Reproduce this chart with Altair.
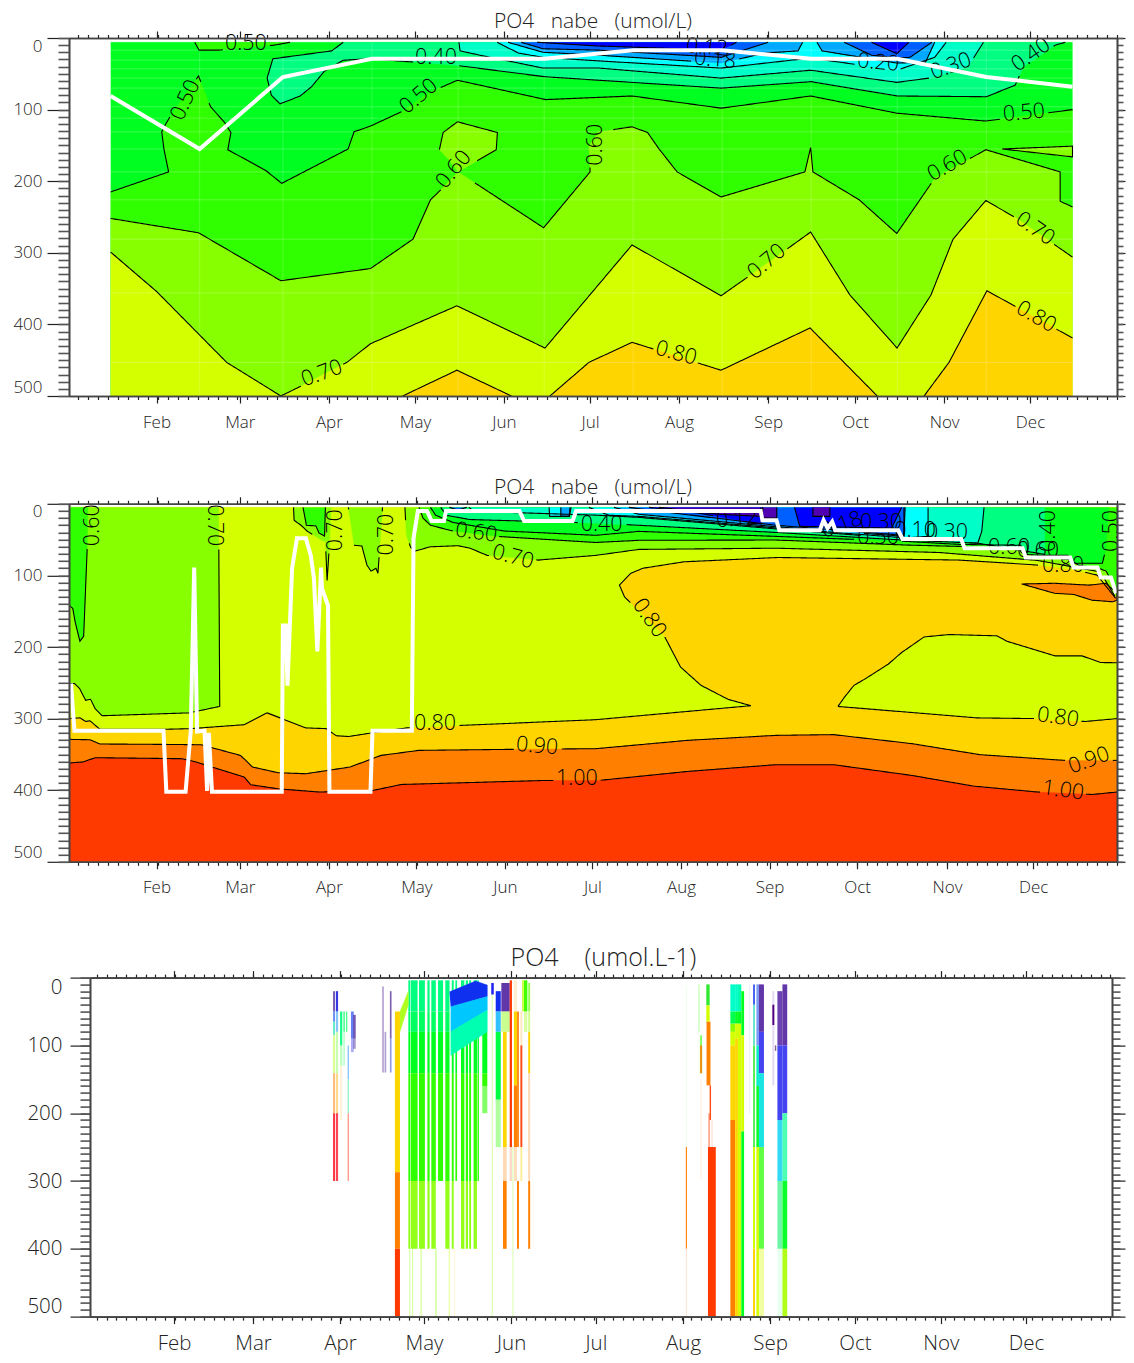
import altair as alt
import numpy as np
import pandas as pd

FONT = "Open Sans"
INK = "#222222"
PURPLE, B0, B1, B2, CY = "#5000B0", "#0000FF", "#0060FF", "#00A8FF", "#00FFFF"
C23, C34, C45, C56, C67 = "#00FFC8", "#00FF80", "#00FF20", "#30FF00", "#88FF00"
C78, C89, C910, C10 = "#D4FF00", "#FFD500", "#FF8000", "#FF3A00"

MONTHS = ["Feb", "Mar", "Apr", "May", "Jun", "Jul", "Aug", "Sep", "Oct", "Nov", "Dec"]
TICKS_1 = [30, 59, 90, 120, 151, 181, 212, 243, 273.3, 304.3, 334.2]
TICKS_2 = [30, 59, 90, 120.5, 151.3, 181.8, 212.7, 243.5, 274, 305.3, 335.3]
TICKS_3 = [30, 58.2, 89.3, 119.3, 150.4, 180.7, 211.8, 242.9, 273.2, 303.9, 334.3]

# ---- panel 1: monthly climatology, contour outlines as (day, depth) ----
L50 = [(14,215),(34.2,187),(32.6,156),(31.8,131),(33.2,120),(35,108),(44.6,53),(48.8,96),(53.5,117),(55.9,132),(54.8,156),(68,185),(73.6,203),(96.7,155),(98.8,131),(104.5,123),(115.3,103),(124.4,77),(134.8,59),(165.5,86),(195.6,81),(226.7,98),(257.8,81),(287.8,105),(318.8,116),(349,100)]
L50_TOP = [(43.3,6),(44.8,17),(51.7,17),(70.9,10),(76.5,6)]
L60 = [(14,252),(44.6,272),(73.3,339),(104.5,322),(119.3,281),(125.4,226),(129,212),(135,187),(164.8,265),(181,187),(180.6,151),(184,131),(195.6,124),(201,132),(205,155),(211.3,187),(226.6,222),(255.8,187),(257.8,153),(258.6,187),(274.7,226),(287.8,273),(301,196),(318.8,156),(344.7,187),(344.7,228),(349,236)]
L60_ISLAND = [(134.8,117),(148.7,132),(148.3,156),(135,187),(131.8,170),(128.5,156),(129.8,132),(134.8,117)]
L60_WEDGE = [(324.5,155),(349,151),(349,166),(324.5,155)]
L70 = [(14,299),(30,354),(54.4,453),(73.3,500),(80.9,485),(96.3,453),(104.5,427),(134.6,374),(165.3,433),(195.6,289),(226.6,360),(243.3,313),(257.8,271),(271.5,359),(287.9,433),(299.7,359),(307.4,281),(318.8,227),(329.2,251),(349,306)]
L80_A = [(115.7,500),(134.6,464),(153.6,500)]
L80_B = [(167,500),(180.6,453),(195.6,425),(226.6,464),(257.6,405),(269.4,453),(281,500)]
L80_C = [(297.3,500),(306,453),(319.2,353),(349,419)]
L40 = [(95,6),(91,18),(70.5,29),(68.5,56),(70,80),(73,92),(80,81),(84,68),(88.3,47),(95,31),(104,29),(134,38),(165,54),(184,59),(226.6,70),(258,61),(288,81),(319,82),(329,66),(332,40),(343,10),(346.5,6)]
L30 = [(135.3,6),(135.7,18),(142.6,24),(164.6,42),(184,42),(226.6,56),(257.8,45),(287.8,62),(299,56),(312.6,40),(318,6)]
L20 = [(148.6,6),(156,21),(164.6,27),(184,32),(226.6,42),(257.8,28),(287.8,45),(301,27),(305,6)]
L18_L = [(152.4,6),(164.6,20),(184,24),(226.6,35),(242,21),(253.4,18),(255,6)]
L18_R = [(260,6),(261.8,18),(287.8,35),(297.8,34),(301,6)]
L15_L = [(157,6),(164.6,15),(184,17),(226.6,27),(243,6)]
L15_R = [(269.5,6),(279,24),(287.8,28),(292.4,27),(300,6)]
L12_L = [(162.5,6),(183,11),(226.6,17),(232,6)]
L12_R = [(279,6),(287.8,22),(292,6)]

# fill colour, label level, outline, extra points that close the fill
REGIONS_1 = [
    (C45, "", [(14,6),(349,6),(349,500),(14,500)], []),
    (C56, "0.50", L50, [(349,500),(14,500)]),
    (C56, "0.50", L50_TOP, []),
    (C67, "0.60", L60, [(349,500),(14,500)]),
    (C67, "0.60", L60_ISLAND, []),
    (C67, "0.60", L60_WEDGE, []),
    (C78, "0.70", L70, [(349,500),(14,500)]),
    (C89, "0.80", L80_A, []),
    (C89, "0.80", L80_B, []),
    (C89, "0.80", L80_C, [(349,500)]),
    (C34, "0.40", L40, []),
    (C23, "0.30", L30, []),
    (CY, "0.20", L20, []),
    (B2, "0.18", L18_L, []),
    (B2, "0.18", L18_R, []),
    (B1, "0.15", L15_L, []),
    (B1, "0.15", L15_R, []),
    (B0, "0.12", L12_L, []),
    (B0, "0.12", L12_R, []),
]
LABELS_1 = [("0.50",61.1,8,0),("0.50",40.2,87,295),("0.40",127.3,28,0),("0.50",121.4,82,320),("0.60",133.6,184,310),
            ("0.60",183,149,270),("0.18",224.5,31,5),("0.12",221.7,14,5),("0.20",281.3,35,5),("0.30",306.7,40,340),
            ("0.40",334.6,24,325),("0.50",332.1,105,355),("0.60",305.5,179,330),("0.70",335.9,267,35),("0.70",242.6,313,320),
            ("0.80",210.9,441,15),("0.80",336.3,390,30),("0.70",87.6,469,340)]
WHITE_1_DAY = [14,45,74,105,135,165,196,227,258,288,319,349]
WHITE_1_DEPTH = [81,155,54.5,29,29,29,17,17,29,29,54.5,68]
SEAM_DEPTH = [17,31,43,56,70,96,112,131,155,187,226,281,356,453]

# ---- panel 2: daily climatology ----
P2_L60_LEFT = [(-0.5,251),(1.4,251),(3.2,258),(5.3,274.5),(7,273),(8.6,286),(11,296),(41.3,292),(52,283),(51.6,5)]
P2_L50_LEFT = [(-0.5,142),(0.8,146),(1.7,166),(3.3,192),(4.6,185),(5.8,66),(6.1,5)]
P2_PATCH1 = [(77.7,5),(77.9,23),(80.6,31),(82.4,38),(87.9,52),(88.8,52),(89.4,107),(90.2,58),(90.8,5)]
P2_PATCH1B = [(81,5),(82.2,30),(85.5,31),(86.6,41),(88.5,45),(88.8,5)]
P2_PATCH2 = [(96.8,5),(98.8,58),(101.5,59),(103.3,86),(104.7,94),(106.4,90),(107.1,97),(108.7,5)]
P2_L80 = [(-0.5,300),(3.3,299),(5.3,304),(6.8,303),(10.3,315),(31.8,315),(42,314),(60.5,308.5),(68.5,292),(82,313),(89,314),(92.6,324),(96.8,325),(105,320),(117,313),(136.2,309.5),(183,301.5),(237,282),(229,273),(219.6,253.5),(212.5,228),(207,186),(193,130),(191.2,113.6),(195.2,97),(199.4,90),(213.7,81),(246.3,75),(309.7,78.6),(337,85.6),(350,92.6),(357.6,99.6),(364,132)]
P2_L80_R = [(267.3,283),(269.6,270),(272.9,253.5),(277,244),(284.8,224),(289.5,207.7),(297.3,186),(306,182.6),(322.7,184.4),(326.2,192),(342.9,212.4),(352.3,212.4),(358.8,221.7),(364.5,222)]
P2_L80_R2 = [(364.5,300),(353.5,304),(336.3,300),(315.6,299),(267.3,283)]
P2_L90_PATCH = [(331.3,112),(342.8,125),(349.4,126.6),(355.8,134.6),(363,136.8),(364.5,134.6),(364.5,125),(360.6,111),(354.7,113.6),(342.8,111),(331.3,112)]
P2_L90 = [(-0.5,329),(6.8,329.5),(10.3,335.5),(31.8,336),(45.5,336.5),(59.2,351.4),(61,358),(63.4,367.6),(72.3,375.6),(82,377),(97.4,367.6),(108.2,351.4),(121.3,344.4),(152.3,343),(183,342),(214.9,330.4),(245.7,323.4),(265.8,322.4),(293.1,335),(316.8,350.4),(346.4,358.4),(364.5,358.4)]
P2_L100 = [(-0.5,362),(4.4,360.6),(8.6,354.6),(38.9,356),(43.7,360.6),(60.5,381.6),(62.8,392.4),(72.3,398),(86.6,402.6),(105.3,400.4),(115.3,392),(165.3,386.4),(184,386.4),(214.9,373.8),(245.7,364.4),(265.8,364.4),(293.1,379.4),(314.4,394.2),(337,402.6),(355.8,406),(364.5,402.6)]
P2_L70 = [(116.5,5),(117,44),(118.5,61),(120,66),(125.4,60),(135,58.5),(139.2,62),(145.1,72),(163,78.6),(183,72),(198,63.7),(245.7,62),(302.5,68),(336.7,79),(357.6,94.4),(360,104),(363.8,129.4)]
P2_L60 = [(121.4,5),(122.8,20),(125.4,30),(133.2,38),(148.6,45.5),(183,54),(198,51),(245.7,50.6),(291,57.6),(309.5,59.5),(331,65),(337.3,76),(347.8,77.6),(351.3,86),(358.2,90),(360.7,94),(364,118)]
P2_L50 = [(125.4,5),(127.2,16),(133.2,26),(151,38),(183,44),(198,38.5),(245.7,45.5),(291,52.5),(309.5,56.7),(331,58),(332,70.6),(338,72),(347.4,72),(349.4,83),(359.4,83),(360.7,62),(360.9,44),(361.7,5)]
P2_L40 = [(129,5),(130.8,16),(139.2,22),(183,27),(198,30),(245.7,40),(289.6,50.6),(316,55),(339.3,70.6),(339.3,5)]
P2_L30 = [(138.8,5),(140.5,10.5),(184,16),(198,19),(245.7,35),(290.7,49),(316,55),(317.4,38.5),(318.2,5)]
P2_L20_A = [(166.7,5),(166.9,17.5),(173.7,17.5),(174.4,5)]
P2_L20_B = [(180.6,5),(187.6,16),(198,17.5),(245.7,33.6),(290.7,47.6),(298.7,45.5),(298.7,5)]
P2_L18_A = [(170.8,5),(170.8,17.5),(173.7,17.5),(174,5)]
P2_L18_B = [(189.3,5),(198,14.7),(245.7,32),(290.3,45.5),(290.3,5)]
P2_L15_A = [(132,5),(135,9),(138,5)]
P2_L15_B = [(194.5,5),(205,10.5),(245.7,30),(290.3,44),(290.7,5)]
P2_L12_A = [(201.5,5),(219,13),(240.5,29),(241.2,5)]
P2_L12_B = [(252.2,5),(254,31.5),(286,34),(289.5,5)]
P2_L10_A = [(205,5),(226,14.7),(240.5,17.5),(240.5,5)]
P2_L10_B = [(241,5),(241,20),(246,20),(246,5)]
P2_L10_C = [(258.6,5),(258.6,17.5),(264.5,17.5),(264.5,5)]

REGIONS_2 = [
    (C89, "", [(-0.5,5),(364.5,5),(364.5,500),(-0.5,500)], []),
    (C78, "0.80", P2_L80, [(364.5,132),(364.5,5),(-0.5,5)]),
    (C78, "0.80", P2_L80_R, P2_L80_R2),
    (None, "0.80", P2_L80_R2, []),
    (C910, "0.90", P2_L90_PATCH, []),
    (C910, "0.90", P2_L90, [(364.5,500),(-0.5,500)]),
    (C10, "1.00", P2_L100, [(364.5,500),(-0.5,500)]),
    (C67, "0.70", P2_L60_LEFT, [(-0.5,5)]),
    (C56, "0.60", P2_L50_LEFT, [(-0.5,5)]),
    (C67, "0.70", P2_PATCH1, []),
    (C56, "0.60", P2_PATCH1B, []),
    (C67, "0.70", P2_PATCH2, []),
    (C67, "0.70", P2_L70, [(364.5,129),(364.5,5)]),
    (C56, "0.60", P2_L60, [(364.5,118),(364.5,5)]),
    (C45, "0.50", P2_L50, []),
    (C34, "0.40", P2_L40, []),
    (C23, "0.30", P2_L30, []),
    (CY, "0.20", P2_L20_A, []),
    (CY, "0.20", P2_L20_B, []),
    (B2, "0.18", P2_L18_A, []),
    (B2, "0.18", P2_L18_B, []),
    (B1, "0.15", P2_L15_A, []),
    (B1, "0.15", P2_L15_B, []),
    (B0, "0.12", P2_L12_A, []),
    (B0, "0.12", P2_L12_B, []),
    (PURPLE, "0.10", P2_L10_A, []),
    (PURPLE, "0.10", P2_L10_B, []),
    (PURPLE, "0.10", P2_L10_C, []),
]
LABELS_2 = [("0.60",7.9,30,270),("0.70",50,30,90),("0.70",92.5,37,270),("0.70",110.3,43,270),("0.60",141.3,41,8),
            ("0.40",185,30,0),("0.70",154.1,75,15),("0.12",232.2,22,355),("0.18",268.7,30,340),("0.50",281.3,48,0),
            ("0.30",282.3,27,0),("0.10",294.2,38,0),("0.30",305.3,41,0),("0.40",340.8,38,270),("0.50",362.8,38,270),
            ("0.80",345.7,87,0),("0.60",326.9,62,0),("0.60",337,66,0),("0.80",201.5,160,55),("0.80",127,307,0),
            ("0.90",162.5,339,5),("1.00",176.4,384,0),("0.80",343.9,299,8),("0.90",354.8,359,340),("1.00",345.7,401,8)]
WHITE_2_DAY = [0.2,1.4,32.4,33.4,40.1,41.9,43.1,44.1,46.7,47.6,48.2,49.3,73.6,74,75,75.6,77.2,78.9,82,83.7,84.8,86,87.3,87.6,89.7,90.2,104.5,105.2,118.9,119.5,121,124.2,125.8,130.1,130.8,156.4,158,174.9,176.1,240.4,241,245.9,246.9,261,262.3,263.7,265.3,266.4,288.3,289.8,310.2,311.4,331.6,332.7,348.2,349.4,357.7,358.8,362.4,364.2]
WHITE_2_DEPTH = [251,317,317,402,402,318,89,318,317,401,320,402,402,170,170,254,90,48,48,72,104,206,89,118,142,402,402,317,317,48,10,10,24,24,10,10,24,24,10,10,23,23,37,37,23,34,25,37,37,49,49,62,62,75,75,89,89,103,103,125]

# ---- panel 3: individual profiles ----
GREEN_COLS = [(113.7,114.4,400),(114.6,117,400),(117.5,119.6,400),(120.5,121.3,400),(121.9,123.5,400),(124.3,126.1,300),(126.9,128.4,400),(129.2,129.9,400),(130.5,131.1,300),(132.5,133.7,400),(134.2,135,400),(135.4,136.1,400),(137,138.2,400),(138.4,138.9,300)]
GREEN_SEGS = [(4,50,C34,1),(50,80,"#00FF60",1),(80,141,C45,1),(141,300,C56,1),(300,400,C67,.9)]
PROFILES = [
    (86.8,87.5,[(20,50,"#5030A0",.8),(50,65,"#3060F0",.7),(65,85,"#00E0A0",.6),(85,141,"#C0FF40",.6),(141,200,"#FF9020",.6),(200,300,"#FF2030",.9)]),
    (87.8,88.6,[(20,50,"#2020E0",.9),(50,80,"#30A0F0",.6),(80,141,"#90FF60",.5),(141,200,"#FFC040",.6),(200,300,"#FF3040",.9)]),
    (89.3,90.1,[(50,100,"#00FF80",.9),(100,130,"#80FF80",.5),(130,210,"#FFD080",.3)]),
    (90.5,91.0,[(50,80,"#00FF60",.8),(80,130,"#60FF90",.5)]),
    (91.4,91.9,[(50,80,"#00FF60",.7)]),
    (92,92.5,[(100,150,"#40A0FF",.6),(150,200,"#50F0A0",.6),(200,300,"#FF7060",.7)]),
    (93.2,94.2,[(50,90,"#4060F0",.8),(90,110,"#6060F0",.5)]),
    (94,94.9,[(55,90,"#5030A0",.8),(90,105,"#5030A0",.5)]),
    (104.4,104.9,[(13,140,"#8060B0",.7)]),
    (105.2,105.8,[(80,140,"#8060B0",.6)]),
    (107.1,107.7,[(20,90,"#7050A8",.9),(90,140,"#6070E0",.7)]),
    (108.9,110.7,[(50,287,C89,1),(287,400,C910,1),(400,500,C10,1)]),
    (114,114.4,[(400,500,"#C0FF60",.6)]),(115,115.4,[(400,500,"#C0FF60",.6)]),(118,118.5,[(400,500,"#C0FF60",.6)]),
    (123.4,123.7,[(400,500,C67,.7)]),(128.1,128.5,[(400,500,"#E0FF70",.7)]),(130.1,130.4,[(400,500,"#FFE9A0",.5)]),
    (140.1,141.9,[(80,141,C45,1),(141,160,C56,1),(160,200,C56,.6)]),
    (143.3,144.2,[(8,25,"#2020F0",1)]),
    (143.5,143.8,[(25,500,"#B8FF60",.7)]),
    (144.9,146.7,[(20,50,"#1030F0",1),(50,80,"#00B0FF",.8),(80,180,"#00FF40",1),(180,250,"#60FF40",.5)]),
    (146.9,149.9,[(8,50,"#5020A0",.9),(50,80,"#B0FF60",.7)]),
    (147.5,148.8,[(80,250,C89,1),(250,300,"#FFC080",.6),(300,400,C910,1)]),
    (149.9,150.7,[(4,250,C10,1),(250,300,"#FFB090",.5)]),
    (150.9,151.2,[(250,500,"#C0FF70",.7)]),
    (151.4,152.5,[(4,50,"#FFE0A0",.5),(50,159,C89,1),(159,250,C910,1),(250,300,"#FFC080",.5)]),
    (152.5,153.2,[(50,250,C910,.9),(300,400,C910,1)]),
    (153.7,154.4,[(50,100,"#FFD080",.5),(100,250,C10,.9),(250,300,C89,.4)]),
    (154.4,154.9,[(4,50,"#B8FF00",1)]),
    (155,156.2,[(4,50,"#40FF00",1),(50,80,"#C0FF60",.6)]),
    (156.5,157.2,[(8,50,"#88FF40",.9),(50,80,"#C0FF60",.7),(80,141,C89,1),(141,300,"#FFC890",.7),(300,400,C910,1)]),
    (212.8,213.2,[(12,250,"#E0FFD0",.5),(250,400,C910,1),(400,500,"#FFD8C0",.7)]),
    (217.3,217.7,[(10,80,"#A0FF80",.7),(80,141,"#E0FFC0",.4)]),
    (217.9,218.6,[(85,141,"#60FF40",.8),(100,141,C910,.9)]),
    (218,218.4,[(150,297,"#FFE0C0",.5)]),
    (220.1,221.3,[(10,41,"#30E830",1),(41,65,C78,1)]),
    (220.2,221.6,[(65,159,C910,1)]),
    (221.3,221.8,[(159,210,C10,.9)]),
    (220.7,223.5,[(250,500,C10,1)]),
    (220.9,221.3,[(200,250,C10,.7)]),
    (222,222.3,[(210,250,"#FFB090",.6)]),
    (228.7,230.4,[(10,50,C23,1),(50,68,"#00FF50",1),(68,80,C67,1),(80,100,C78,1),(100,210,C89,1),(210,500,C910,1)]),
    (230.4,231.4,[(10,50,C23,1),(50,68,C45,1),(68,90,C78,1),(90,500,C89,1)]),
    (231.4,232.6,[(10,50,"#00FFB0",1),(50,68,C45,1),(68,500,C78,1)]),
    (232.6,233.6,[(20,85,C45,1),(85,227,C78,1),(227,500,C45,1)]),
    (235.4,235.8,[(10,200,"#D8E8FF",.6)]),
    (236.8,237.5,[(10,40,"#3050F0",.9),(40,100,"#40E0C0",.8),(100,250,"#40F040",.9),(250,400,C78,1),(400,500,C89,1)]),
    (238,238.9,[(10,100,"#4070F0",.7),(100,160,"#00F0C0",1),(160,250,C45,1),(250,500,C78,1)]),
    (238.9,240.7,[(10,80,"#5020A0",.9),(80,141,"#3030F0",.9),(141,250,"#00E0E0",.9),(250,400,"#50FF30",.9),(400,500,"#E8FF60",.6)]),
    (243.7,244.4,[(20,159,"#D8C8F0",.7),(40,70,"#500080",1)]),
    (244.6,245.1,[(100,108,"#806090",1)]),
    (245.5,247.3,[(20,100,"#5020A0",.85),(100,210,"#3030F0",.9),(210,300,"#00D0F0",.8),(300,400,"#30F080",.7),(400,500,"#D0FFE0",.5)]),
    (247.3,249,[(10,100,"#5020A0",.9),(100,200,"#3030F0",.9),(200,300,"#20FFA0",.8),(300,400,C45,.95),(400,500,"#A8FF00",.9)]),
]
WEDGES_3 = [
    ("#B0FF20",[(110.7,50),(113.7,20),(113.7,40),(110.7,80)]),
    ("#1030F0",[(128.4,21),(137.7,5),(141.9,11),(141.9,28),(128.8,43)]),
    ("#00C8FF",[(128.8,43),(141.9,28),(141.9,48),(128.8,80)]),
    ("#00FFB0",[(128.8,80),(141.9,48),(141.9,80),(128.8,115)]),
]

# ---- helpers ----
def poly_chart(points, color, sx, sy):
    df = pd.DataFrame(points, columns=["x", "y"])
    df["i"] = range(len(df))
    return alt.Chart(df).mark_line(fill=color, stroke=color, strokeWidth=0.4).encode(
        x=alt.X("x:Q", scale=sx, axis=None), y=alt.Y("y:Q", scale=sy, axis=None),
        order=alt.Order("i:Q"))

def cut_outline(points, level, labels, kx, ky, r=23):
    marks = [(x * kx, y * ky) for t, x, y, a in labels if t == level]
    segs, cur = [], []
    for (x0, y0), (x1, y1) in zip(points[:-1], points[1:]):
        n = max(1, int(np.hypot((x1 - x0) * kx, (y1 - y0) * ky) / 2))
        for j in range(n + 1):
            x, y = x0 + (x1 - x0) * j / n, y0 + (y1 - y0) * j / n
            if any(np.hypot(x * kx - a, y * ky - b) < r for a, b in marks):
                if len(cur) > 1:
                    segs.append(cur)
                cur = []
            else:
                cur.append((x, y))
    if len(cur) > 1:
        segs.append(cur)
    return segs

def contour_chart(regions, labels, kx, ky, sx, sy):
    rows, seg = [], 0
    for color, level, pts, closing in regions:
        if not level:
            continue
        for part in cut_outline(pts, level, labels, kx, ky):
            seg += 1
            rows += [{"x": x, "y": y, "s": seg, "i": i} for i, (x, y) in enumerate(part)]
    return alt.Chart(pd.DataFrame(rows)).mark_line(color="#000000", strokeWidth=1.1).encode(
        x=alt.X("x:Q", scale=sx, axis=None), y=alt.Y("y:Q", scale=sy, axis=None),
        detail="s:N", order=alt.Order("i:Q"))

def label_chart(labels, sx, sy):
    df = pd.DataFrame(labels, columns=["t", "x", "y", "a"])
    return alt.Chart(df).mark_text(font=FONT, fontSize=21.5, fontWeight=300, color="#000000", baseline="middle", align="center").encode(
        x=alt.X("x:Q", scale=sx, axis=None), y=alt.Y("y:Q", scale=sy, axis=None),
        text="t:N", angle=alt.Angle("a:Q", scale=None))

def white_line(days, depths, sx, sy, width=4):
    df = pd.DataFrame({"x": days, "y": depths, "i": range(len(days))})
    return alt.Chart(df).mark_line(color="#FFFFFF", strokeWidth=width, strokeJoin="miter").encode(
        x=alt.X("x:Q", scale=sx, axis=None), y=alt.Y("y:Q", scale=sy, axis=None), order=alt.Order("i:Q"))

def frame(sx, sy, mid_x, ticks, font_size, label_pad_x, label_pad_y, major_y=22, minor_y=11, right_major=8, right_minor=6, left_offset=0, bottom_extra=0):
    vals = ",".join(str(v) for v in ticks)
    names = ",".join("'%s'" % m for m in MONTHS)
    expr = "[%s][indexof([%s], datum.value)]" % (names, vals)
    minor_x = [float(v) for v in np.arange(2.5, 365, 3.48)]
    minor_yv = list(range(0, 501, 10))
    common = dict(domainColor="#444444", domainWidth=1.6, tickColor=INK, zindex=1, grid=False, title=None)
    d = pd.DataFrame({"x": [mid_x], "y": [250]})
    def one(xaxis, yaxis):
        return alt.Chart(d).mark_point(opacity=0).encode(
            x=alt.X("x:Q", scale=sx, axis=alt.Axis(**{**common, **xaxis})),
            y=alt.Y("y:Q", scale=sy, axis=alt.Axis(**{**common, **yaxis})))
    left_major = dict(orient="left", values=list(range(0, 501, 100)), tickSize=major_y, tickWidth=1.2, labels=True,
                      labelFont=FONT, labelFontWeight=300, labelFontSize=font_size, labelColor=INK, labelPadding=label_pad_y,
                      labelFlush=True, offset=left_offset)
    bottom_major = dict(orient="bottom", values=ticks, tickSize=7, tickWidth=1.2, labels=True, labelExpr=expr, labelFont=FONT, labelFontWeight=300,
                        labelFontSize=font_size, labelColor=INK, labelPadding=label_pad_x)
    if bottom_extra:
        bottom_major.update(title="\u00a0", titleFontSize=1, titlePadding=bottom_extra)
    layers = [
        one(bottom_major, left_major),
        one(dict(orient="bottom", values=minor_x, tickSize=3.5, tickWidth=1.2, labels=False),
            dict(orient="left", values=minor_yv, tickSize=minor_y, tickWidth=1.6, labels=False, tickColor="#555555", offset=left_offset)),
        one(dict(orient="top", values=ticks, tickSize=7, tickWidth=1.2, labels=False),
            dict(orient="right", values=list(range(0, 501, 100)), tickSize=right_major, tickWidth=1.2, labels=False)),
        one(dict(orient="top", values=minor_x, tickSize=3.5, tickWidth=1.2, labels=False),
            dict(orient="right", values=minor_yv, tickSize=right_minor, tickWidth=1.6, labels=False, tickColor="#555555")),
    ]
    return layers

TITLE_1 = "PO4\u00a0\u00a0\u00a0nabe\u00a0\u00a0\u00a0(umol/L)"
TITLE_3 = "PO4\u00a0\u00a0\u00a0\u00a0(umol.L-1)"

def ttl(text, size, off, dx=0):
    return alt.TitleParams(text=text, font=FONT, fontWeight=300, fontSize=size, color=INK, anchor="middle", offset=off, dx=dx)

# ---- panel 1 ----
sx12 = alt.Scale(domain=[-0.5, 364.5], nice=False, zero=False)
sy = alt.Scale(domain=[500, 0], nice=False, zero=False)
KX, KY = 2.871, 0.716
layers1 = [poly_chart(pts + closing, color, sx12, sy) for color, level, pts, closing in REGIONS_1 if color]
seam_h = pd.DataFrame({"y": SEAM_DEPTH, "x": 14, "x2": 349})
layers1.append(alt.Chart(seam_h).mark_rule(color="#FFFFFF", opacity=0.22, strokeWidth=1).encode(
    x=alt.X("x:Q", scale=sx12, axis=None), x2="x2:Q", y=alt.Y("y:Q", scale=sy, axis=None)))
seam_v = pd.DataFrame({"x": WHITE_1_DAY, "y": 6, "y2": 500})
layers1.append(alt.Chart(seam_v).mark_rule(color="#FFFFFF", opacity=0.18, strokeWidth=1).encode(
    x=alt.X("x:Q", scale=sx12, axis=None), y=alt.Y("y:Q", scale=sy, axis=None), y2="y2:Q"))
layers1.append(contour_chart(REGIONS_1, LABELS_1, KX, KY, sx12, sy))
layers1.append(label_chart(LABELS_1, sx12, sy))
layers1.append(white_line(WHITE_1_DAY, WHITE_1_DEPTH, sx12, sy))
layers1 += frame(sx12, sy, 180, TICKS_1, 17, 11, 5)
p1 = alt.layer(*layers1).resolve_axis(x="independent", y="independent").properties(
    width=1048, height=358, title=ttl(TITLE_1, 21, -2))

# ---- panel 2 ----
layers2 = [poly_chart(pts + closing, color, sx12, sy) for color, level, pts, closing in REGIONS_2 if color]
layers2.append(contour_chart(REGIONS_2, LABELS_2, KX, KY, sx12, sy))
layers2.append(label_chart(LABELS_2, sx12, sy))
layers2.append(white_line(WHITE_2_DAY, WHITE_2_DEPTH, sx12, sy))
layers2 += frame(sx12, sy, 180, TICKS_2, 17, 11, 5, bottom_extra=1.5)
p2 = alt.layer(*layers2).resolve_axis(x="independent", y="independent").properties(
    width=1048, height=358, title=ttl(TITLE_1, 21, -2))

# ---- panel 3 ----
sx3 = alt.Scale(domain=[0, 365], range=[21, 1043], nice=False, zero=False)
rows = []
for d0, d1, bottom in GREEN_COLS:
    for top, bot, color, op in GREEN_SEGS:
        if top < bottom:
            rows.append((d0, d1, top, min(bot, bottom), color, op))
for d0, d1, segs in PROFILES:
    for top, bot, color, op in segs:
        rows.append((d0, d1, top, bot, color, op))
stripes = pd.DataFrame(rows, columns=["x", "x2", "y", "y2", "c", "o"])
layers3 = [alt.Chart(stripes).mark_rect(strokeWidth=0).encode(
    x=alt.X("x:Q", scale=sx3, axis=None), x2="x2:Q",
    y=alt.Y("y:Q", scale=sy, axis=None), y2="y2:Q",
    color=alt.Color("c:N", scale=None), opacity=alt.Opacity("o:Q", scale=None))]
layers3 += [poly_chart(pts, color, sx3, sy) for color, pts in WEDGES_3]
layers3 += frame(sx3, sy, 180, TICKS_3, 20.5, 10, 8, major_y=20, minor_y=10, right_major=13, right_minor=8, left_offset=-21)
p3 = alt.layer(*layers3).resolve_axis(x="independent", y="independent").properties(
    width=1043, height=339, title=ttl(TITLE_3, 25, -1, dx=13))

chart = alt.concat(p1, p2, p3, columns=1, spacing=46.8, align="none").properties(
    padding={"left": 4, "top": 3, "right": 0, "bottom": 0}
).configure_view(stroke=None).configure_axis(labelOverlap=False)

chart.save("out.html", embed_options={"renderer": "svg", "actions": False})
